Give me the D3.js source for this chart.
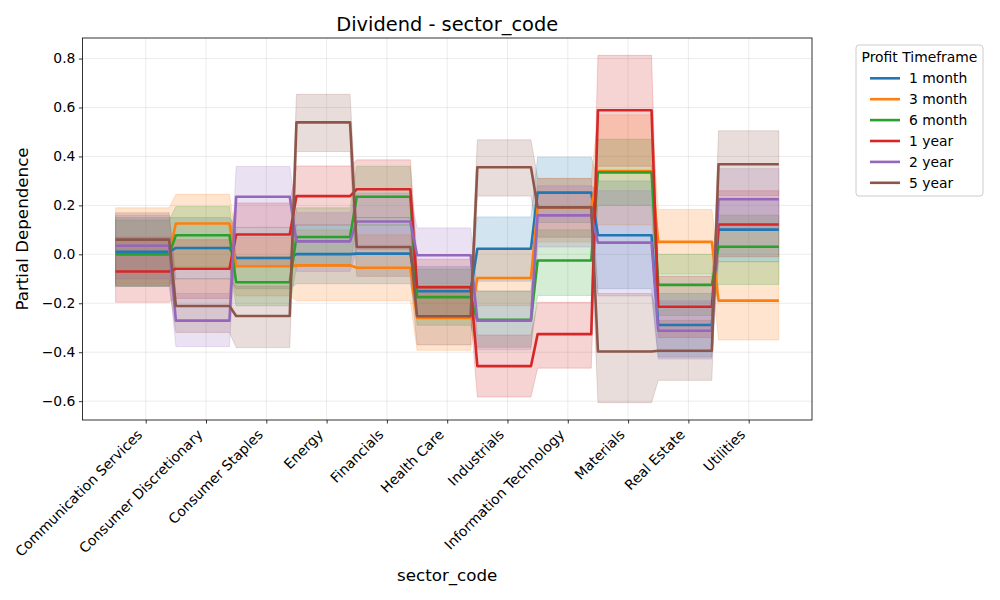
<html>
  <head>
    <title>Dividend - sector_code</title>
    <meta charset="utf-8">
  </head>
  <body style="margin:0">
  </body>

  <script src="https://d3js.org/d3.v7.min.js" charset="utf-8"></script>
  <script type="text/javascript">

var sectors = ['Communication Services', 'Consumer Discretionary', 'Consumer Staples',
  'Energy', 'Financials', 'Health Care', 'Industrials', 'Information Technology',
  'Materials', 'Real Estate', 'Utilities'];

var timeframes = ['1 month', '3 month', '6 month', '1 year', '2 year', '5 year'];
var colors = ['#1f77b4', '#ff7f0e', '#2ca02c', '#d62728', '#9467bd', '#8c564b'];

var y_ticks = [-0.6, -0.4, -0.2, 0.0, 0.2, 0.4, 0.6, 0.8];

// partial dependence per sector, one array per timeframe
var pd_1m  = [0.010, 0.026, -0.015, 0.001, 0.003, -0.151, 0.023, 0.252, 0.078, -0.289, 0.101];
var pd_3m  = [0.000, 0.126, -0.049, -0.045, -0.055, -0.260, -0.097, 0.192, 0.340, 0.051, -0.189];
var pd_6m  = [0.000, 0.078, -0.114, 0.071, 0.235, -0.175, -0.268, -0.025, 0.335, -0.125, 0.031];
var pd_1y  = [-0.070, -0.059, 0.081, 0.238, 0.266, -0.134, -0.457, -0.326, 0.589, -0.214, 0.122];
var pd_2y  = [0.035, -0.271, 0.235, 0.053, 0.134, -0.004, -0.271, 0.159, 0.048, -0.312, 0.225];
var pd_5y  = [0.060, -0.211, -0.252, 0.539, 0.030, -0.253, 0.356, 0.192, -0.397, -0.394, 0.368];

// lower / upper edges of the shaded bands
var lo_1m = [-0.13, -0.10, -0.14, -0.12, -0.12, -0.25, -0.11, 0.13, -0.14, -0.42, -0.03];
var hi_1m = [0.15, 0.15, 0.11, 0.12, 0.12, -0.05, 0.153, 0.397, 0.30, -0.16, 0.23];
var lo_3m = [-0.12, -0.05, -0.17, -0.19, -0.19, -0.392, -0.21, 0.05, 0.12, -0.08, -0.35];
var hi_3m = [0.19, 0.245, 0.07, 0.10, 0.08, -0.13, 0.02, 0.31, 0.57, 0.183, -0.03];
var lo_6m = [-0.13, -0.05, -0.21, -0.05, 0.12, -0.29, -0.38, -0.168, 0.20, -0.25, -0.123];
var hi_6m = [0.14, 0.195, -0.01, 0.19, 0.36, -0.06, -0.15, 0.10, 0.47, 0.00, 0.16];
var lo_1y = [-0.196, -0.18, -0.05, 0.12, 0.15, -0.25, -0.583, -0.465, 0.36, -0.34, -0.01];
var hi_1y = [0.07, 0.06, 0.21, 0.361, 0.386, -0.02, -0.33, -0.196, 0.813, -0.09, 0.26];
var lo_2y = [-0.10, -0.377, 0.11, -0.07, 0.02, -0.12, -0.39, 0.03, -0.17, -0.428, 0.10];
var hi_2y = [0.16, -0.16, 0.359, 0.17, 0.25, 0.108, -0.15, 0.28, 0.26, -0.19, 0.35];
var lo_5y = [-0.13, -0.319, -0.381, 0.42, -0.09, -0.37, 0.238, 0.07, -0.606, -0.515, 0.24];
var hi_5y = [0.17, -0.10, -0.13, 0.654, 0.15, -0.14, 0.468, 0.31, -0.16, -0.27, 0.505];

var series = [
  {name: timeframes[0], color: colors[0], pd: pd_1m, lo: lo_1m, hi: hi_1m},
  {name: timeframes[1], color: colors[1], pd: pd_3m, lo: lo_3m, hi: hi_3m},
  {name: timeframes[2], color: colors[2], pd: pd_6m, lo: lo_6m, hi: hi_6m},
  {name: timeframes[3], color: colors[3], pd: pd_1y, lo: lo_1y, hi: hi_1y},
  {name: timeframes[4], color: colors[4], pd: pd_2y, lo: lo_2y, hi: hi_2y},
  {name: timeframes[5], color: colors[5], pd: pd_5y, lo: lo_5y, hi: hi_5y}
];

var w = 1000, h = 600;
// plot box (window.top is taken, so the names are prefixed)
var p_left = 82.4, p_right = 812, p_top = 38, p_bottom = 420;
var font = "'DejaVu Sans', sans-serif";

var svg = d3.select('body').append('svg')
    .style("background", "#FFF")
    .attr('width', w)
    .attr('height', h);

// evaluation grid along the category axis, each point takes its nearest sector
var n = sectors.length;
var grid = d3.range(100).map(function(k){
  return -0.5 + k * n / 99;
});
function cat(x){
  return Math.min(n - 1, Math.floor(x + 0.5 + 1e-9));
}

var all_vals = [].concat.apply([], series.map(function(s){ return s.lo.concat(s.hi); }));
var ymin = d3.min(all_vals), ymax = d3.max(all_vals);
var ypad = (ymax - ymin) * 0.05;

var x = d3.scaleLinear()
    .domain([-0.5 - n * 0.05, n - 0.5 + n * 0.05])
    .range([p_left, p_right]);
var y = d3.scaleLinear()
    .domain([ymin - ypad, ymax + ypad])
    .range([p_bottom, p_top]);

// grid lines
svg.append('g').selectAll('line')
    .data(d3.range(n))
    .enter().append('line')
    .attr('x1', function(d){ return x(d); })
    .attr('x2', function(d){ return x(d); })
    .attr('y1', p_top).attr('y2', p_bottom)
    .style('stroke', '#b0b0b0').style('stroke-opacity', 0.3).style('stroke-width', 0.8);
svg.append('g').selectAll('line')
    .data(y_ticks)
    .enter().append('line')
    .attr('y1', function(d){ return y(d); })
    .attr('y2', function(d){ return y(d); })
    .attr('x1', p_left).attr('x2', p_right)
    .style('stroke', '#b0b0b0').style('stroke-opacity', 0.3).style('stroke-width', 0.8);

var plot = svg.append('g');

var area = function(s){
  return d3.area()
    .x(function(d){ return x(d); })
    .y0(function(d){ return y(s.lo[cat(d)]); })
    .y1(function(d){ return y(s.hi[cat(d)]); });
};
var line = function(s){
  return d3.line()
    .x(function(d){ return x(d); })
    .y(function(d){ return y(s.pd[cat(d)]); });
};

// bands sit under all the lines
plot.selectAll('path.band')
    .data(series)
    .enter().append('path')
    .attr('class', 'band')
    .attr('d', function(s){ return area(s)(grid); })
    .style('fill', function(s){ return s.color; })
    .style('fill-opacity', 0.2)
    .style('stroke', function(s){ return s.color; })
    .style('stroke-opacity', 0.2)
    .style('stroke-width', 1);

plot.selectAll('path.pd')
    .data(series)
    .enter().append('path')
    .attr('class', 'pd')
    .attr('d', function(s){ return line(s)(grid); })
    .style('fill', 'none')
    .style('stroke', function(s){ return s.color; })
    .style('stroke-width', 2.6)
    .style('stroke-linejoin', 'round');

// axes
var xaxis = svg.append('g')
    .attr('transform', 'translate(0,' + p_bottom + ')')
    .call(d3.axisBottom(x).tickValues(d3.range(n)).tickSize(3.5).tickSizeOuter(0).tickFormat(''));
var yaxis = svg.append('g')
    .attr('transform', 'translate(' + p_left + ',0)')
    .call(d3.axisLeft(y).tickValues(y_ticks).tickSize(3.5).tickSizeOuter(0)
      .tickFormat(d3.format('.1f')).tickPadding(3.5));
yaxis.selectAll('text').style('font-family', font).style('font-size', '13.9px').attr('fill', '#000');
[xaxis, yaxis].forEach(function(a){
  a.select('.domain').remove();
  a.selectAll('line').style('stroke', '#000').style('stroke-width', 0.8);
});

svg.append('rect')
    .attr('x', p_left).attr('y', p_top)
    .attr('width', p_right - p_left).attr('height', p_bottom - p_top)
    .style('fill', 'none').style('stroke', '#000').style('stroke-width', 0.8);

svg.append('g').selectAll('text')
    .data(sectors)
    .enter().append('text')
    .attr('transform', function(d, i){
      return 'translate(' + (x(i) - 2.5) + ',' + 435.5 + ') rotate(-45)';
    })
    .attr('text-anchor', 'end')
    .style('font-family', font)
    .style('font-size', '13.9px')
    .text(function(d){ return d; });

// titles
svg.append('text')
    .attr('x', (p_left + p_right) / 2).attr('y', 31)
    .attr('text-anchor', 'middle')
    .style('font-family', font).style('font-size', '19.4px')
    .text('Dividend - sector_code');
svg.append('text')
    .attr('x', (p_left + p_right) / 2).attr('y', 581)
    .attr('text-anchor', 'middle')
    .style('font-family', font).style('font-size', '16.7px')
    .text('sector_code');
svg.append('text')
    .attr('transform', 'translate(28,' + (p_top + p_bottom) / 2 + ') rotate(-90)')
    .attr('text-anchor', 'middle')
    .style('font-family', font).style('font-size', '16.7px')
    .text('Partial Dependence');

// legend
var legend = svg.append('g').attr('transform', 'translate(856,45)');
legend.append('rect')
    .attr('width', 127).attr('height', 151)
    .attr('rx', 3)
    .style('fill', '#fff').style('fill-opacity', 0.8)
    .style('stroke', '#cccccc').style('stroke-width', 1);
legend.append('text')
    .attr('x', 63.5).attr('y', 17)
    .attr('text-anchor', 'middle')
    .style('font-family', font).style('font-size', '13.9px')
    .text('Profit Timeframe');
var item = legend.selectAll('g.item')
    .data(series)
    .enter().append('g')
    .attr('class', 'item')
    .attr('transform', function(d, i){ return 'translate(0,' + (33.3 + i * 20.9) + ')'; });
item.append('line')
    .attr('x1', 14).attr('x2', 44)
    .style('stroke', function(d){ return d.color; })
    .style('stroke-width', 2.6);
item.append('text')
    .attr('x', 53).attr('y', 5)
    .style('font-family', font).style('font-size', '13.9px')
    .text(function(d){ return d.name; });

  </script>
</html>
